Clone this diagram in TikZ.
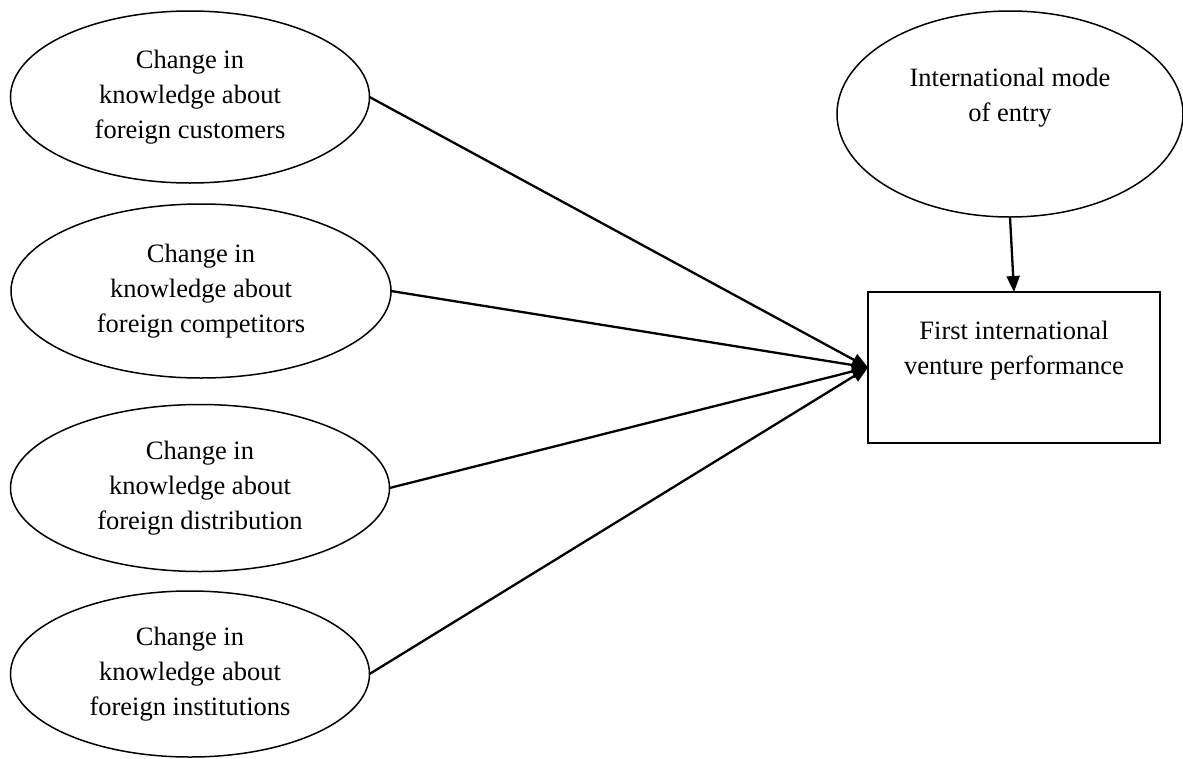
\documentclass[tikz,border=0pt]{standalone}
\usepackage{fontspec}
\setmainfont{Liberation Serif}
\usetikzlibrary{shapes.geometric,arrows.meta}
\begin{document}
\begin{tikzpicture}[x=1pt,y=-1pt,
  every node/.style={font=\fontsize{26.5pt}{35pt}\selectfont, align=center},
  oval/.style={draw, ellipse, line width=1.5pt, inner sep=0pt, outer sep=0pt},
  boxnode/.style={draw, rectangle, line width=1.7pt, inner sep=0pt, outer sep=0pt},
  txt/.style={inner sep=0pt},
  arr/.style={line width=2.3pt, -{Triangle[length=16pt,width=13pt]}}]
\useasboundingbox (0,0) rectangle (1183,758);
\node[oval, minimum width=359pt, minimum height=172pt] (e1) at (190,97) {Change in\\knowledge about\\foreign customers};
\node[oval, minimum width=380pt, minimum height=174pt] (e2) at (201,291) {Change in\\knowledge about\\foreign competitors};
\node[oval, minimum width=379pt, minimum height=167pt] (e3) at (200,488) {Change in\\knowledge about\\foreign distribution};
\node[oval, minimum width=359pt, minimum height=166pt] (e4) at (190,674) {Change in\\knowledge about\\foreign institutions};
\node[oval, minimum width=346pt, minimum height=206pt] (mode) at (1010,114) {};
\node[txt] (modetxt) at (1010,98) {International mode\\of entry};
\node[boxnode, minimum width=292pt, minimum height=151pt] (perf) at (1014,367.5) {};
\node[txt] (perftxt) at (1014,351) {First international\\venture performance};
\draw[arr] (e1.east) -- (perf.west);
\draw[arr] (e2.east) -- (perf.west);
\draw[arr] (e3.east) -- (perf.west);
\draw[arr] (e4.east) -- (perf.west);
\draw[arr] (mode.south) -- (perf.north);
\end{tikzpicture}
\end{document}
